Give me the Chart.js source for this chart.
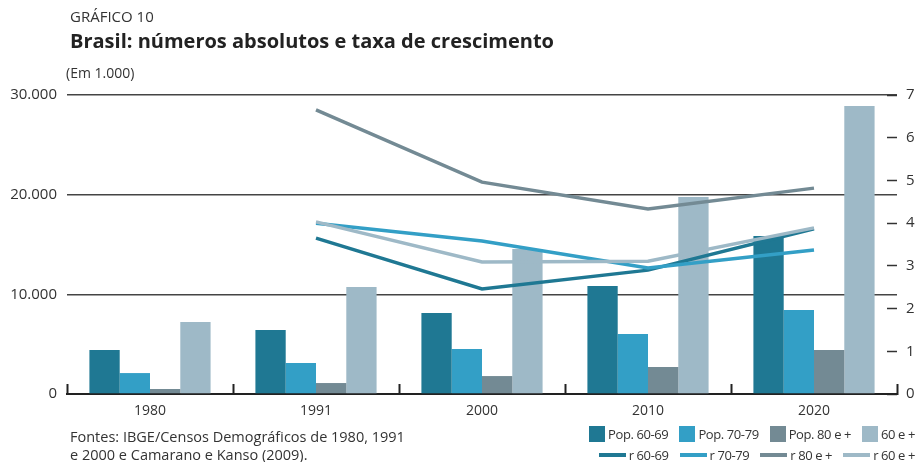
<!DOCTYPE html>
<html>
<head>
<meta charset="utf-8">
<script src="https://cdn.jsdelivr.net/npm/chart.js"></script>
<style>
  body { margin: 0; background: #fff; font-family: "Open Sans", sans-serif; color: #333; }
  #wrap { position: relative; width: 918px; height: 462px; overflow: hidden; }
  #myChart { position: absolute; left: 0; top: 0; }
  .kicker { position: absolute; left: 70px; top: 6px; font-size: 15px; color: #333; }
  .title { position: absolute; left: 70px; top: 27px; font-size: 20px; font-weight: bold; color: #222; }
  .unit { position: absolute; left: 66px; top: 63px; font-size: 14px; color: #333; }
  .source { position: absolute; left: 70px; top: 428px; font-size: 14.5px; line-height: 18px; color: #333; }
  .legend { position: absolute; right: 3px; display: flex; justify-content: flex-end; gap: 11px; font-size: 13px; letter-spacing: -0.4px; color: #333; }
  .legend span { display: flex; align-items: center; }
  .legend i { display: inline-block; margin-right: 3px; }
</style>
</head>
<body>
<div id="wrap">
  <canvas id="myChart" width="918" height="462"></canvas>
  <div class="kicker">GRÁFICO 10</div>
  <div class="title">Brasil: números absolutos e taxa de crescimento</div>
  <div class="unit">(Em 1.000)</div>
  <div class="source">Fontes: IBGE/Censos Demográficos de 1980, 1991<br>e 2000 e Camarano e Kanso (2009).</div>
  <div class="legend" id="legBars" style="top:425px"></div>
  <div class="legend" id="legLines" style="top:446px"></div>
</div>
<script>
var years = ['1980', '1991', '2000', '2010', '2020'];

// population, thousands
var pop6069 = [4410, 6420, 8120, 10830, 15850];
var pop7079 = [2100, 3110, 4510, 6020, 8430];
var pop80 = [500, 1100, 1800, 2710, 4410];
var pop60 = [7220, 10730, 14540, 19760, 28890];

// growth rates, % per year
var r6069 = [null, 3.65, 2.46, 2.90, 3.87];
var r7079 = [null, 4.00, 3.58, 2.95, 3.37];
var r80 = [null, 6.65, 4.96, 4.33, 4.82];
var r60 = [null, 4.03, 3.09, 3.11, 3.89];

var barLabels = ['Pop. 60-69', 'Pop. 70-79', 'Pop. 80 e +', '60 e +'];
var lineLabels = ['r 60-69', 'r 70-79', 'r 80 e +', 'r 60 e +'];
var colors = ['#1f7893', '#339fc6', '#738a94', '#9eb9c7'];

var leftTicks = [0, 10000, 20000, 30000];

var bars = [pop6069, pop7079, pop80, pop60].map(function (d, i) {
  return {
    type: 'bar', label: barLabels[i], data: d, yAxisID: 'y', order: 10,
    backgroundColor: colors[i], categoryPercentage: 0.73, barPercentage: 1.0
  };
});
var lineOrder = [3, 2, 1, 0];
var lines = [r6069, r7079, r80, r60].map(function (d, i) {
  return {
    type: 'line', label: lineLabels[i], data: d, yAxisID: 'y1', order: lineOrder[i],
    borderColor: colors[i], borderWidth: 3.5, pointRadius: 0, tension: 0, spanGaps: false
  };
});

Chart.defaults.font.family = '"Open Sans", sans-serif';
Chart.defaults.color = '#333';

var ctx = document.getElementById('myChart').getContext('2d');
var chart = new Chart(ctx, {
  type: 'bar',
  data: { labels: years, datasets: bars.concat(lines) },
  options: {
    responsive: false,
    animation: false,
    layout: { padding: { top: 95, left: 0, right: 0, bottom: 0 } },
    plugins: { legend: { display: false }, tooltip: { enabled: false } },
    scales: {
      x: {
        offset: true,
        grid: { offset: true, drawOnChartArea: false, drawTicks: true, tickLength: -10, color: '#222', tickWidth: 2 },
        border: { display: true, color: '#222', width: 2 },
        ticks: { padding: 19, font: { size: 14 }, color: '#333' },
        afterFit: function (s) { s.height = 68; }
      },
      y: {
        position: 'left', min: 0, max: 30000,
        afterBuildTicks: function (s) { s.ticks = leftTicks.map(function (v) { return { value: v }; }); },
        grid: { color: '#444', lineWidth: 1.5, drawTicks: false },
        border: { display: false },
        ticks: {
          padding: 10, font: { size: 15 }, color: '#333',
          callback: function (v) { return v.toLocaleString('pt-BR'); }
        },
        afterFit: function (s) { s.width = 67; }
      },
      y1: {
        position: 'right', min: 0, max: 7,
        grid: { drawOnChartArea: false, drawTicks: true, tickLength: -10, color: '#333', tickWidth: 1.5 },
        border: { display: false },
        ticks: { stepSize: 1, padding: 19, font: { size: 15 }, color: '#333' },
        afterFit: function (s) { s.width = 21; }
      }
    }
  }
});

// legend built from the datasets
function addLegend(id, sets, isLine) {
  var el = document.getElementById(id);
  sets.forEach(function (ds) {
    var item = document.createElement('span');
    var mark = document.createElement('i');
    if (isLine) {
      mark.style.width = '27px'; mark.style.height = '4px'; mark.style.background = ds.borderColor;
    } else {
      mark.style.width = '16px'; mark.style.height = '16px'; mark.style.background = ds.backgroundColor;
    }
    item.appendChild(mark);
    item.appendChild(document.createTextNode(ds.label));
    el.appendChild(item);
  });
}
addLegend('legBars', bars, false);
addLegend('legLines', lines, true);
</script>
</body>
</html>
